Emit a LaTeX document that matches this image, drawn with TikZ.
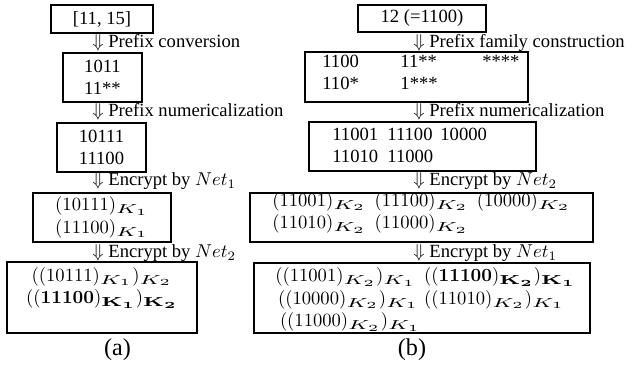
\documentclass[tikz,border=0pt]{standalone}
\usepackage[no-math]{fontspec}
\setmainfont{Liberation Serif}
\usepackage{amsmath}
\usepackage{graphicx}
\newcommand{\pxu}{0.5376pt}
% wide key subscripts
\newcommand{\ksub}[1]{\scalebox{1.6}[1]{$\scriptstyle K_{#1}$}}
\newcommand{\kbsub}[1]{\scalebox{1.6}[1]{$\scriptstyle \mathbf{K_{#1}}$}}

\begin{document}
\begin{tikzpicture}[x=\pxu, y=-\pxu,
box/.style={draw, line width=1pt, inner sep=0pt, align=center},
stage/.style={anchor=base west, inner sep=0pt},
cell/.style={inner sep=0pt},
caption/.style={inner sep=0pt, font=\fontsize{13}{15}\selectfont}]
%    canvas
\useasboundingbox (0,0) rectangle (629,367);

% (a) range
\node[box, minimum width=102*\pxu, minimum height=28*\pxu] (a1) at (102,19) {[11, 15]};
\node[stage] (sa1) at (92,48) {$\Downarrow$ Prefix conversion};
\node[box, minimum width=79*\pxu, minimum height=49*\pxu] (a2) at (102.5,77.5) {1011\\11**};
\node[stage] (sa2) at (92,117) {$\Downarrow$ Prefix numericalization};
\node[box, minimum width=89*\pxu, minimum height=49*\pxu] (a3) at (101.5,147.5) {10111\\11100};
\node[stage] (sa3) at (92,186) {$\Downarrow$ Encrypt by $Net_1$};
\node[box, minimum width=138*\pxu, minimum height=49*\pxu] (a4) at (102,217.5)
	{$(10111)_{\ksub{1}}$\\$(11100)_{\ksub{1}}$};
\node[stage] (sa4) at (92,258) {$\Downarrow$ Encrypt by $Net_2$};
\node[box, minimum width=190*\pxu, minimum height=71*\pxu] (a5) at (102,297.5) {};
\node[cell, anchor=north, align=center] (a5t) at (102,267)
	{$((10111)_{\ksub{1}})_{\ksub{2}}$\\$((\mathbf{11100})_{\kbsub{1}})_{\kbsub{2}}$};
\node[caption] (capa) at (117.5,350) {(a)};

% (b) single value
\node[box, minimum width=128*\pxu, minimum height=27*\pxu] (b1) at (422,18.5) {12 (=1100)};
\node[stage] (sb1) at (413,48) {$\Downarrow$ Prefix family construction};
\node[box, minimum width=223*\pxu, minimum height=50*\pxu] (b2) at (416.5,77) {};
\node[cell, anchor=west] (b2t) at (322,74) {\begin{tabular}{@{}p{42pt}@{}p{44pt}@{}l@{}}
	1100 & 11** & ****\\
	110* & 1*** & \\
\end{tabular}};
\node[stage] (sb2) at (413,117) {$\Downarrow$ Prefix numericalization};
\node[box, minimum width=227*\pxu, minimum height=49*\pxu] (b3) at (422.5,146.5) {};
\node[cell, anchor=west] (b3t) at (332,147) {\begin{tabular}{@{}p{29.6pt}@{}p{28.5pt}@{}l@{}}
	11001 & 11100 & 10000\\
	11010 & 11000 & \\
\end{tabular}};
\node[stage] (sb3) at (413,186) {$\Downarrow$ Encrypt by $Net_2$};
\node[box, minimum width=343*\pxu, minimum height=49*\pxu] (b4) at (421.5,217.5) {};
\node[cell, anchor=west] (b4t) at (272,213) {\begin{tabular}{@{}p{55pt}@{}p{55pt}@{}l@{}}
	$(11001)_{\ksub{2}}$ & $(11100)_{\ksub{2}}$ & $(10000)_{\ksub{2}}$\\
	$(11010)_{\ksub{2}}$ & $(11000)_{\ksub{2}}$ & \\
\end{tabular}};
\node[stage] (sb4) at (413,258) {$\Downarrow$ Encrypt by $Net_1$};
\node[box, minimum width=336*\pxu, minimum height=70*\pxu] (b5) at (422,298) {};
\node[cell, anchor=north west] (b5t) at (275,266) {\begin{tabular}{@{}p{80pt}@{}l@{}}
	$((11001)_{\ksub{2}})_{\ksub{1}}$ & $((\mathbf{11100})_{\kbsub{2}})_{\kbsub{1}}$\\
	\mbox{\hspace{1.5pt}$((10000)_{\ksub{2}})_{\ksub{1}}$} & $((11010)_{\ksub{2}})_{\ksub{1}}$\\
	\mbox{\hspace{2.5pt}$((11000)_{\ksub{2}})_{\ksub{1}}$} & \\
\end{tabular}};
\node[caption] (capb) at (412,350) {(b)};

\end{tikzpicture}
\end{document}
